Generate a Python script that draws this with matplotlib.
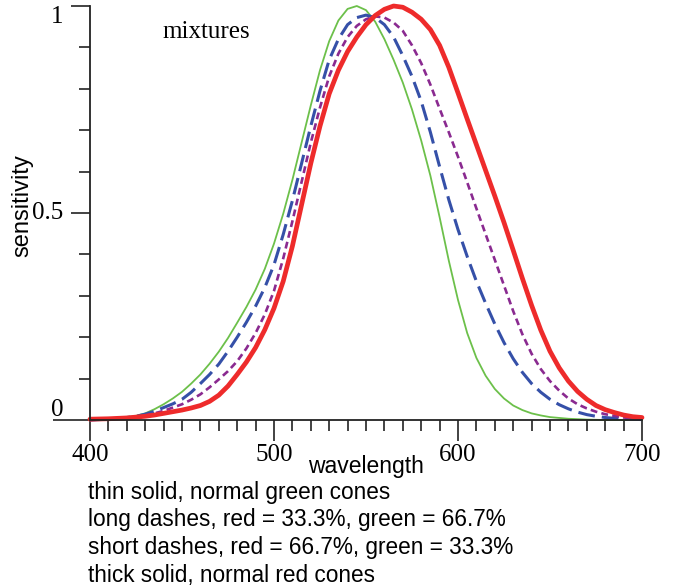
import matplotlib
matplotlib.use("Agg")
import matplotlib.pyplot as plt
import matplotlib.transforms as mtransforms
import numpy as np

# wavelengths (nm), every 5 nm, and sensitivities
wl = list(range(400, 701, 5))

green = [0.0, 0.001, 0.002, 0.004, 0.006, 0.01, 0.016, 0.026, 0.038, 0.052,
         0.068, 0.088, 0.11, 0.136, 0.165, 0.198, 0.235, 0.273, 0.315, 0.365,
         0.426, 0.498, 0.58, 0.67, 0.76, 0.845, 0.915, 0.965, 0.993, 1.0,
         0.99, 0.962, 0.92, 0.87, 0.815, 0.75, 0.675, 0.59, 0.49, 0.385,
         0.29, 0.21, 0.15, 0.107, 0.075, 0.052, 0.035, 0.024, 0.016, 0.011,
         0.007, 0.005, 0.003, 0.002, 0.001, 0.0005, 0.0, 0.0, 0.0, 0.0, 0.0]
mix_33 = [0.0, 0.001, 0.002, 0.004, 0.006, 0.009, 0.014, 0.021, 0.03, 0.039,
          0.05, 0.067, 0.088, 0.11, 0.135, 0.166, 0.2, 0.236, 0.275, 0.32,
          0.375, 0.448, 0.53, 0.62, 0.71, 0.795, 0.87, 0.92, 0.955, 0.972,
          0.978, 0.972, 0.955, 0.925, 0.88, 0.83, 0.77, 0.695, 0.612, 0.532,
          0.46, 0.395, 0.335, 0.282, 0.232, 0.187, 0.148, 0.115, 0.088, 0.067,
          0.05, 0.037, 0.027, 0.019, 0.013, 0.009, 0.006, 0.004, 0.003, 0.002, 0.001]
mix_67 = [0.0, 0.001, 0.002, 0.003, 0.005, 0.008, 0.011, 0.016, 0.022, 0.03,
          0.038, 0.049, 0.062, 0.079, 0.098, 0.118, 0.142, 0.173, 0.21, 0.255,
          0.312, 0.39, 0.48, 0.575, 0.67, 0.755, 0.83, 0.885, 0.925, 0.952,
          0.968, 0.975, 0.972, 0.96, 0.94, 0.905, 0.862, 0.81, 0.752, 0.695,
          0.636, 0.574, 0.511, 0.449, 0.387, 0.325, 0.263, 0.207, 0.16, 0.123,
          0.094, 0.071, 0.052, 0.038, 0.028, 0.02, 0.014, 0.01, 0.006, 0.004, 0.003]
red = [0.002, 0.0025, 0.003, 0.004, 0.005, 0.007, 0.009, 0.012, 0.016, 0.02,
       0.024, 0.029, 0.035, 0.045, 0.06, 0.082, 0.11, 0.14, 0.175, 0.218,
       0.27, 0.335, 0.42, 0.52, 0.62, 0.71, 0.788, 0.845, 0.89, 0.925,
       0.955, 0.977, 0.992, 1.0, 0.997, 0.985, 0.968, 0.943, 0.905, 0.852,
       0.79, 0.727, 0.665, 0.603, 0.541, 0.477, 0.41, 0.342, 0.277, 0.217,
       0.166, 0.126, 0.094, 0.069, 0.05, 0.035, 0.025, 0.018, 0.012, 0.008, 0.006]

legend_lines = ["thin solid, normal green cones",
                "long dashes, red = 33.3%, green = 66.7%",
                "short dashes, red = 66.7%, green = 33.3%",
                "thick solid, normal red cones"]

serif = "Liberation Serif"
sans = "Liberation Sans"

fig = plt.figure(figsize=(6.74, 5.88), dpi=100)
ax = fig.add_axes([90/674, 1-420/588, 552/674, 414/588])

ax.plot(wl, green, color="#6cc04a", lw=1.3, clip_on=False, solid_capstyle="round")
ax.plot(wl, mix_33, color="#3550a8", lw=2.2, dashes=(5.5, 2.3), clip_on=False)
ax.plot(wl, mix_67, color="#8a2a90", lw=1.9, dashes=(2.6, 1.6), clip_on=False)
ax.plot(wl, red, color="#ee2b2b", lw=3.4, clip_on=False, solid_capstyle="round")

ax.set_xlim(400, 700)
ax.set_ylim(0, 1)
for s in ["top", "right"]:
    ax.spines[s].set_visible(False)
for s in ["left", "bottom"]:
    ax.spines[s].set_linewidth(1.3)
    ax.spines[s].set_color("#222222")

ax.set_xticks([400, 500, 600, 700])
ax.set_xticks(np.arange(400, 701, 10), minor=True)
ax.set_yticks([0, 0.5, 1])
ax.set_yticks(np.arange(0, 1.01, 0.1), minor=True)
ax.tick_params(axis="x", which="major", length=15, width=1.2, color="#222222",
               labelsize=18, pad=2)
ax.tick_params(axis="x", which="minor", length=8, width=1.2, color="#222222")
ax.tick_params(axis="y", which="major", length=13.5, width=1.2, color="#222222",
               labelleft=False)
ax.tick_params(axis="y", which="minor", length=8, width=1.2, color="#222222")
ax.yaxis.get_major_ticks()[0].tick1line.set_markersize(27)
for lab in ax.get_xticklabels():
    lab.set_fontfamily(serif)

# y tick labels sit a little off their ticks
for val, txt, dy in [(1, "1", -11), (0.5, "0.5", 0), (0, "0", 10)]:
    tr = mtransforms.offset_copy(ax.get_yaxis_transform(), fig=fig, x=-27, y=dy, units="dots")
    ax.text(0, val, txt, transform=tr, ha="right", va="center", fontsize=18, fontfamily=serif)

fig.text(22/674, 1-206/588, "sensitivity", rotation=90, ha="center", va="center",
         fontsize=17, fontfamily=sans)
fig.text(366/674, 1-466/588, "wavelength", ha="center", va="center",
         fontsize=16.5, fontfamily=sans)
fig.text(162/674, 1-32/588, "mixtures", ha="left", va="center",
         fontsize=18, fontfamily=serif)

for i, line in enumerate(legend_lines):
    fig.text(88/674, 1-(492+27.7*i)/588, line, ha="left", va="center",
             fontsize=16.3, fontfamily=sans)

fig.savefig("out.png", dpi=100)
